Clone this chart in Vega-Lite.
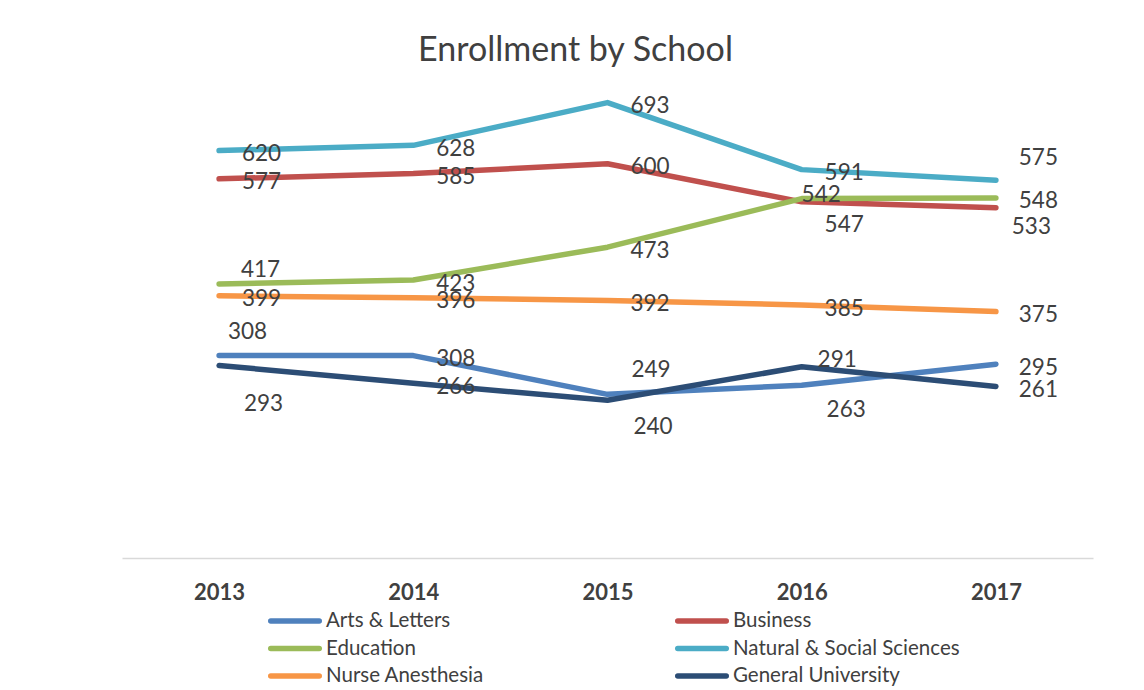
{
  "$schema": "https://vega.github.io/schema/vega-lite/v6.json",
  "width": 971,
  "height": 460,
  "autosize": {"type": "none"},
  "padding": {"left": 122, "top": 98, "right": 51, "bottom": 132},
  "background": "white",
  "config": {"view": {"stroke": null}},
  "title": {
    "text": "Enrollment by School",
    "font": "Lato",
    "fontSize": 34,
    "fontWeight": "normal",
    "color": "#404040",
    "anchor": "middle",
    "frame": "group",
    "dx": -32,
    "dy": 41,
    "baseline": "alphabetic",
    "offset": 41
  },
  "data": {
    "values": [
      {"school": "Arts & Letters", "year": "2013", "enrollment": 308},
      {"school": "Arts & Letters", "year": "2014", "enrollment": 308},
      {"school": "Arts & Letters", "year": "2015", "enrollment": 249},
      {"school": "Arts & Letters", "year": "2016", "enrollment": 263},
      {"school": "Arts & Letters", "year": "2017", "enrollment": 295},
      {"school": "Business", "year": "2013", "enrollment": 577},
      {"school": "Business", "year": "2014", "enrollment": 585},
      {"school": "Business", "year": "2015", "enrollment": 600},
      {"school": "Business", "year": "2016", "enrollment": 542},
      {"school": "Business", "year": "2017", "enrollment": 533},
      {"school": "Education", "year": "2013", "enrollment": 417},
      {"school": "Education", "year": "2014", "enrollment": 423},
      {"school": "Education", "year": "2015", "enrollment": 473},
      {"school": "Education", "year": "2016", "enrollment": 547},
      {"school": "Education", "year": "2017", "enrollment": 548},
      {"school": "Natural & Social Sciences", "year": "2013", "enrollment": 620},
      {"school": "Natural & Social Sciences", "year": "2014", "enrollment": 628},
      {"school": "Natural & Social Sciences", "year": "2015", "enrollment": 693},
      {"school": "Natural & Social Sciences", "year": "2016", "enrollment": 591},
      {"school": "Natural & Social Sciences", "year": "2017", "enrollment": 575},
      {"school": "Nurse Anesthesia", "year": "2013", "enrollment": 399},
      {"school": "Nurse Anesthesia", "year": "2014", "enrollment": 396},
      {"school": "Nurse Anesthesia", "year": "2015", "enrollment": 392},
      {"school": "Nurse Anesthesia", "year": "2016", "enrollment": 385},
      {"school": "Nurse Anesthesia", "year": "2017", "enrollment": 375},
      {"school": "General University", "year": "2013", "enrollment": 293},
      {"school": "General University", "year": "2014", "enrollment": 266},
      {"school": "General University", "year": "2015", "enrollment": 240},
      {"school": "General University", "year": "2016", "enrollment": 291},
      {"school": "General University", "year": "2017", "enrollment": 261}
    ]
  },
  "encoding": {
    "x": {
      "field": "year",
      "type": "ordinal",
      "scale": {"type": "point", "padding": 0.5},
      "axis": {
        "title": null,
        "labelAngle": 0,
        "labelFont": "Lato",
        "labelFontSize": 22,
        "labelFontWeight": "bold",
        "labelColor": "#404040",
        "ticks": false,
        "grid": false,
        "domainColor": "#d9d9d9",
        "domainWidth": 1.5,
        "labelPadding": 24
      }
    },
    "y": {
      "field": "enrollment",
      "type": "quantitative",
      "scale": {"domain": [0, 700], "nice": false, "zero": true},
      "axis": null
    }
  },
  "layer": [
    {
      "mark": {"type": "line", "strokeWidth": 5.5, "strokeCap": "round", "strokeJoin": "round"},
      "encoding": {
        "color": {
          "field": "school",
          "type": "nominal",
          "scale": {
            "domain": ["Arts & Letters", "Business", "Education", "Natural & Social Sciences", "Nurse Anesthesia", "General University"],
            "range": ["#4f81bd", "#c0504d", "#9bbb59", "#4bacc6", "#f79646", "#2c4d75"]
          },
          "legend": {
            "orient": "none",
            "legendX": 158,
            "legendY": 508,
            "columns": 2,
            "direction": "horizontal",
            "title": null,
            "symbolType": "M-2,0H2",
            "symbolSize": 588,
            "symbolStrokeWidth": 5.5,
            "labelFont": "Lato",
            "labelFontSize": 20.5,
            "labelColor": "#404040",
            "labelOffset": 16,
            "labelLimit": 400,
            "rowPadding": 1.5,
            "columnPadding": 182,
            "padding": 0,
            "encode": {"symbols": {"update": {"strokeCap": {"value": "round"}, "fill": {"value": "transparent"}}}}
          }
        }
      }
    },
    {
      "transform": [{"filter": "indexof(['Natural & Social Sciences|2017','Business|2016','Business|2017','Education|2013','Education|2016','Arts & Letters|2013','Arts & Letters|2015','Arts & Letters|2016','General University|2013','General University|2015','General University|2016'], datum.school + '|' + datum.year) < 0"}],
      "mark": {"type": "text", "font": "Lato", "fontSize": 22.5, "color": "#404040", "align": "center", "baseline": "alphabetic", "dx": 42.5, "dy": 10.5},
      "encoding": {"text": {"field": "enrollment", "type": "quantitative"}}
    },
    {
      "transform": [{"filter": "datum.school === 'Natural & Social Sciences' && datum.year === '2017'"}],
      "mark": {"type": "text", "font": "Lato", "fontSize": 22.5, "color": "#404040", "align": "center", "baseline": "alphabetic", "dx": 42.5, "dy": -15.5},
      "encoding": {"text": {"field": "enrollment", "type": "quantitative"}}
    },
    {
      "transform": [{"filter": "datum.school === 'Business' && datum.year === '2016'"}],
      "mark": {"type": "text", "font": "Lato", "fontSize": 22.5, "color": "#404040", "align": "center", "baseline": "alphabetic", "dx": 19.5, "dy": 0.5},
      "encoding": {"text": {"field": "enrollment", "type": "quantitative"}}
    },
    {
      "transform": [{"filter": "datum.school === 'Business' && datum.year === '2017'"}],
      "mark": {"type": "text", "font": "Lato", "fontSize": 22.5, "color": "#404040", "align": "center", "baseline": "alphabetic", "dx": 35.5, "dy": 26.5},
      "encoding": {"text": {"field": "enrollment", "type": "quantitative"}}
    },
    {
      "transform": [{"filter": "datum.school === 'Education' && datum.year === '2013'"}],
      "mark": {"type": "text", "font": "Lato", "fontSize": 22.5, "color": "#404040", "align": "center", "baseline": "alphabetic", "dx": 41.5, "dy": -6.5},
      "encoding": {"text": {"field": "enrollment", "type": "quantitative"}}
    },
    {
      "transform": [{"filter": "datum.school === 'Education' && datum.year === '2016'"}],
      "mark": {"type": "text", "font": "Lato", "fontSize": 22.5, "color": "#404040", "align": "center", "baseline": "alphabetic", "dx": 42.5, "dy": 33.5},
      "encoding": {"text": {"field": "enrollment", "type": "quantitative"}}
    },
    {
      "transform": [{"filter": "datum.school === 'Arts & Letters' && datum.year === '2013'"}],
      "mark": {"type": "text", "font": "Lato", "fontSize": 22.5, "color": "#404040", "align": "center", "baseline": "alphabetic", "dx": 28.5, "dy": -16.5},
      "encoding": {"text": {"field": "enrollment", "type": "quantitative"}}
    },
    {
      "transform": [{"filter": "datum.school === 'Arts & Letters' && datum.year === '2015'"}],
      "mark": {"type": "text", "font": "Lato", "fontSize": 22.5, "color": "#404040", "align": "center", "baseline": "alphabetic", "dx": 43.5, "dy": -17.5},
      "encoding": {"text": {"field": "enrollment", "type": "quantitative"}}
    },
    {
      "transform": [{"filter": "datum.school === 'Arts & Letters' && datum.year === '2016'"}],
      "mark": {"type": "text", "font": "Lato", "fontSize": 22.5, "color": "#404040", "align": "center", "baseline": "alphabetic", "dx": 44.5, "dy": 31.5},
      "encoding": {"text": {"field": "enrollment", "type": "quantitative"}}
    },
    {
      "transform": [{"filter": "datum.school === 'General University' && datum.year === '2013'"}],
      "mark": {"type": "text", "font": "Lato", "fontSize": 22.5, "color": "#404040", "align": "center", "baseline": "alphabetic", "dx": 44.5, "dy": 45.5},
      "encoding": {"text": {"field": "enrollment", "type": "quantitative"}}
    },
    {
      "transform": [{"filter": "datum.school === 'General University' && datum.year === '2015'"}],
      "mark": {"type": "text", "font": "Lato", "fontSize": 22.5, "color": "#404040", "align": "center", "baseline": "alphabetic", "dx": 45.5, "dy": 33.5},
      "encoding": {"text": {"field": "enrollment", "type": "quantitative"}}
    },
    {
      "transform": [{"filter": "datum.school === 'General University' && datum.year === '2016'"}],
      "mark": {"type": "text", "font": "Lato", "fontSize": 22.5, "color": "#404040", "align": "center", "baseline": "alphabetic", "dx": 35.5, "dy": 0.5},
      "encoding": {"text": {"field": "enrollment", "type": "quantitative"}}
    }
  ]
}
